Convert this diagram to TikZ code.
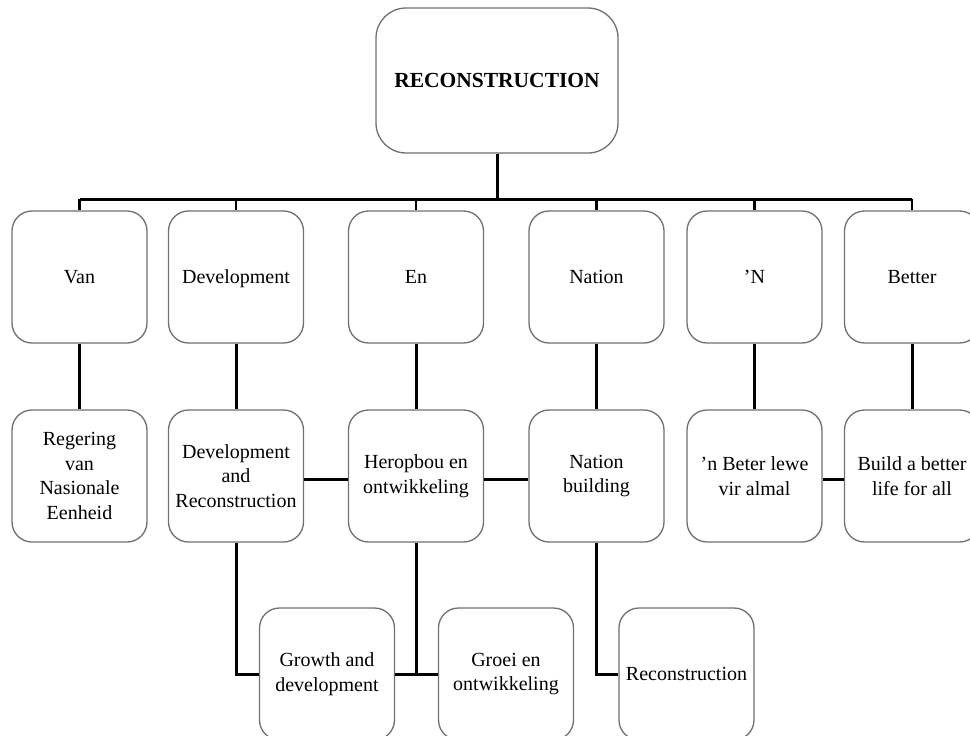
\documentclass[tikz,border=0pt]{standalone}
\usepackage{fontspec}
\setmainfont{Liberation Serif}
\begin{document}
\begin{tikzpicture}[x=1pt,y=-1pt,
  box/.style={draw=boxgray, line width=1.3pt, rounded corners=20pt, fill=white,
    minimum width=135pt, minimum height=132pt, inner sep=0pt, align=center,
    font=\fontsize{20}{24.6}\selectfont},
  oneline/.style={text height=13pt, text depth=0pt},
  topbox/.style={box, rounded corners=30pt, minimum width=242pt, minimum height=145pt,
    text height=14pt, text depth=0pt,
    font=\fontsize{21.5}{26}\selectfont\bfseries},
  link/.style={draw=black, line width=3pt},
  stub/.style={draw=black, line width=2.6pt}]
\definecolor{boxgray}{RGB}{112,112,112}
\useasboundingbox (0,0) rectangle (970,736);
\clip (0,0) rectangle (970,736);

% root
\node[topbox] (root) at (497,80.5) {RECONSTRUCTION};

% first row
\node[box,oneline] (van)  at (79.5,277) {Van};
\node[box,oneline] (dev)  at (236,277)  {Development};
\node[box,oneline] (en)   at (416,277)  {En};
\node[box,oneline] (nat)  at (596.5,277) {Nation};
\node[box,oneline] (n)    at (754.5,277) {'N};
\node[box,oneline] (bet)  at (912,277)  {Better};

% second row
\node[box] (reg)  at (79.5,476) {Regering\\van\\Nasionale\\Eenheid};
\node[box] (dr)   at (236,476)  {Development\\and\\Reconstruction};
\node[box] (hb)   at (416,476)  {Heropbou en\\ontwikkeling};
\node[box] (nb)   at (596.5,476) {Nation\\building};
\node[box] (bl)   at (754.5,476) {'n Beter lewe\\vir almal};
\node[box] (bb)   at (912,476)  {Build a better\\life for all};

% third row
\node[box] (gd)   at (327,674)  {Growth and\\development};
\node[box] (ge)   at (506,674)  {Groei en\\ontwikkeling};
\node[box,oneline] (rc)   at (686.5,674) {Reconstruction};

% bus from the root to the first row
\coordinate (bus) at (497,199);
\draw[link] (root.south) -- (bus);
\draw[link] (van.north |- bus) -- (bet.north |- bus);
\foreach \c in {van,dev,en,nat,n,bet}
  \draw[stub] (\c.north |- bus) -- (\c.north);

% first row to second row
\foreach \a/\b in {van/reg,dev/dr,en/hb,nat/nb,n/bl,bet/bb}
  \draw[link] (\a.south) -- (\b.north);

% links across the second row
\draw[link] ([yshift=-3pt]dr.east) -- ([yshift=-3pt]hb.west);
\draw[link] ([yshift=-3pt]hb.east) -- ([yshift=-3pt]nb.west);
\draw[link] ([yshift=-3pt]bl.east) -- ([yshift=-3pt]bb.west);

% second row to third row
\draw[link] (dr.south) |- (gd.west);
\draw[link] (hb.south) |- (ge.west);
\draw[link] (gd.east) -- (ge.west);
\draw[link] (nb.south) |- (rc.west);
\end{tikzpicture}
\end{document}
